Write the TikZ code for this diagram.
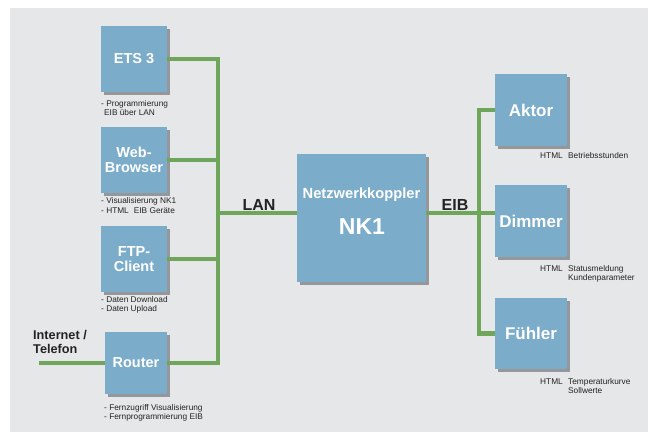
\documentclass[tikz,border=0pt]{standalone}
\usepackage{fontspec}
\setmainfont{Liberation Sans}
\usetikzlibrary{shadows}
\definecolor{bgc}{RGB}{230,231,232}
\definecolor{boxc}{RGB}{123,172,202}
\definecolor{busc}{RGB}{112,166,92}
\definecolor{shc}{RGB}{150,151,155}
\definecolor{txc}{RGB}{35,35,35}
\tikzset{
  box/.style={fill=boxc, draw=none, inner sep=0pt, text=white, align=center,
    font=\bfseries\fontsize{14.5}{15.5}\selectfont,
    drop shadow={shadow xshift=2.5pt, shadow yshift=-2.5pt, fill=shc, opacity=1}},
  bigbox/.style={box, font=\bfseries\fontsize{17}{19}\selectfont},
  bus/.style={draw=busc, line width=4.2pt, line join=miter, line cap=butt},
  captxt/.style={anchor=base west, inner sep=0pt, text=txc, align=left,
    font=\fontsize{8.3}{9.5}\selectfont},
  lbl/.style={text=txc, inner sep=0pt, font=\bfseries\fontsize{16}{18}\selectfont},
}
\begin{document}
\begin{tikzpicture}[x=1pt,y=-1pt]
\useasboundingbox (0,0) rectangle (649,432);
\fill[white] (0,0) rectangle (649,432);
\fill[bgc] (10,8) rectangle (648,432);
% boxes
\node[box, minimum width=66pt, minimum height=66pt] (ets) at (134,59) {ETS 3};
\node[box, minimum width=66pt, minimum height=66pt] (web) at (134,160) {Web-\\Browser};
\node[box, minimum width=66pt, minimum height=66pt] (ftp) at (134,259) {FTP-\\Client};
\node[box, minimum width=62pt, minimum height=62pt] (router) at (136,363) {Router};
\node[box, minimum width=129pt, minimum height=128pt] (nk) at (361.5,218) {};
\node[text=white, inner sep=0pt, font=\bfseries\fontsize{14.7}{16}\selectfont] (nkt) at (361.5,195) {Netzwerkkoppler};
\node[text=white, inner sep=0pt, font=\bfseries\fontsize{23}{26}\selectfont] (nkn) at (362,227) {NK1};
\node[bigbox, minimum width=72pt, minimum height=72pt] (aktor) at (531,110) {Aktor};
\node[bigbox, minimum width=72pt, minimum height=72pt] (dimmer) at (531,221) {Dimmer};
\node[bigbox, minimum width=72pt, minimum height=71pt] (fuehler) at (531,333.5) {Fühler};
% bus coordinates
\coordinate (lanx) at (218,0);
\coordinate (eibx) at (479,0);
\coordinate (inet) at (39,363);
% LAN bus
\draw[bus] (ets.east) -| (router.east -| lanx) -- (router.east);
\draw[bus] (web.east) -- (web.east -| lanx);
\draw[bus] (ftp.east) -- (ftp.east -| lanx);
\draw[bus] ([yshift=5pt]nk.west -| lanx) -- ([yshift=5pt]nk.west);
\draw[bus] (inet) -- (router.west);
% EIB bus
\draw[bus] (aktor.west) -| (fuehler.west -| eibx) -- (fuehler.west);
\draw[bus] ([yshift=5pt]nk.east) -- ([yshift=5pt]nk.east -| dimmer.west);
% labels
\node[lbl] (lan) at (259,205) {LAN};
\node[lbl] (eib) at (455,205) {EIB};
\node[anchor=base west, inner sep=0pt, text=txc, align=left, font=\bfseries\fontsize{12.7}{14}\selectfont] (inettxt) at (33,353) {Internet /\\Telefon};
% captions left (base = last line)
\node[captxt] (c1) at (101,115.5) {- Programmierung\\\hspace*{3pt}EIB über LAN};
\node[captxt] (c2) at (101,213) {- Visualisierung NK1\\- HTML\hspace{5pt}EIB Geräte};
\node[captxt] (c3) at (101,311.5) {- Daten Download\\- Daten Upload};
\node[captxt] (c4) at (104,419.5) {- Fernzugriff Visualisierung\\- Fernprogrammierung EIB};
% captions right
\node[captxt] (h1) at (540,158) {HTML};
\node[captxt] (t1) at (568,158) {Betriebsstunden};
\node[captxt] (h2) at (540,271) {HTML};
\node[captxt] (t2) at (568,280.5) {Statusmeldung\\Kundenparameter};
\node[captxt] (h3) at (540,384) {HTML};
\node[captxt] (t3) at (568,393.5) {Temperaturkurve\\Sollwerte};
\end{tikzpicture}
\end{document}
